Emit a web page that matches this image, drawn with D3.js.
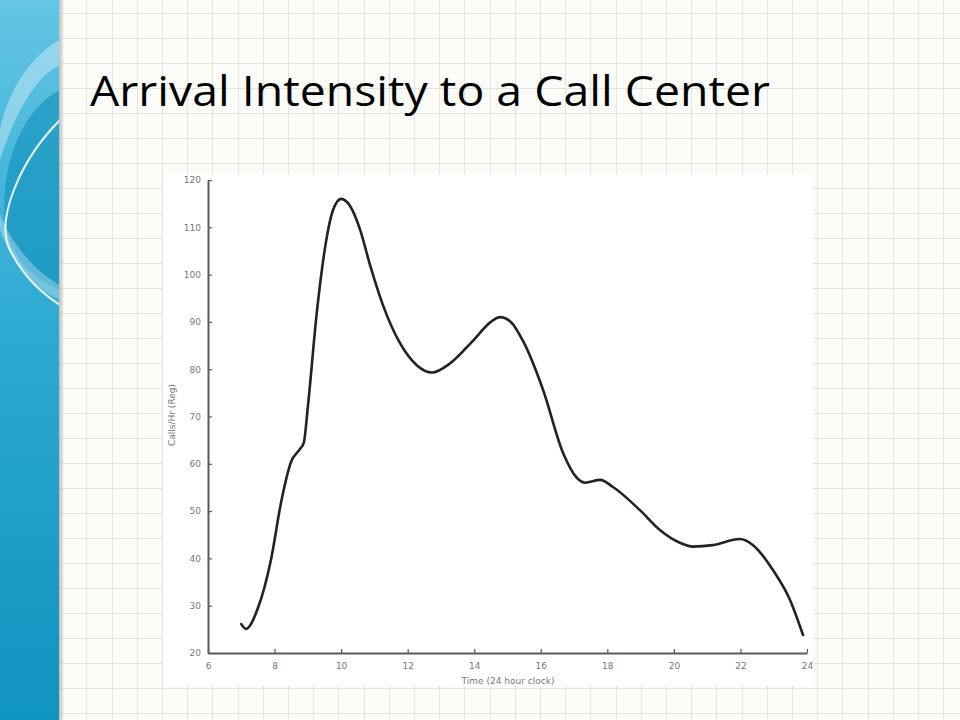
<!DOCTYPE html>
<html><head><meta charset="utf-8">
<script src="https://cdn.jsdelivr.net/npm/d3@7"></script>
<style>html,body{margin:0;padding:0;background:#fff;}svg{display:block;}</style>
</head><body>
<script>
// ---- data ----
const hours = [7.0, 7.14, 7.5, 7.9, 8.2, 8.5, 8.75, 8.88, 9.0, 9.27, 9.52, 9.76, 10.0, 10.27, 10.57, 10.87, 11.26, 11.77, 12.28, 12.73, 13.27, 13.96, 14.5, 14.77, 15.1, 15.5, 16.07, 16.67, 17.09, 17.33, 17.78, 18.17, 18.98, 19.58, 20.18, 20.57, 21.17, 21.98, 22.38, 22.98, 23.49, 23.88];
const calls = [26.1, 25.1, 29.5, 40.0, 52.0, 60.5, 63.0, 64.5, 72.0, 92.0, 105.8, 113.7, 116.0, 114.5, 109.5, 102.0, 93.5, 85.5, 80.8, 79.3, 81.2, 86.0, 90.0, 91.0, 90.0, 85.5, 75.6, 62.3, 57.0, 56.0, 56.6, 55.1, 50.2, 46.0, 43.3, 42.5, 42.8, 44.1, 42.8, 37.5, 31.2, 23.8];
const xTicks = [6, 8, 10, 12, 14, 16, 18, 20, 22, 24];
const yTicks = [20, 30, 40, 50, 60, 70, 80, 90, 100, 110, 120];
const titleText = "Arrival Intensity to a Call Center";
const xLabel = "Time (24 hour clock)";
const yLabel = "Calls/Hr (Reg)";

const W = 960, H = 720;
const svg = d3.select("body").append("svg").attr("width", W).attr("height", H);
const defs = svg.append("defs");

// slide background
svg.append("rect").attr("width", W).attr("height", H).attr("fill", "#fbfbf7");
const grid = svg.append("g").attr("stroke", "#e4e4de").attr("stroke-width", 1);
for (let x = 86.4 - 25.2; x < W; x += 25.2) grid.append("line").attr("x1", Math.round(x) + 0.5).attr("x2", Math.round(x) + 0.5).attr("y1", 0).attr("y2", H);
for (let y = 13; y < H; y += 25) grid.append("line").attr("y1", y + 0.5).attr("y2", y + 0.5).attr("x1", 0).attr("x2", W);

// left blue panel
const lg = defs.append("linearGradient").attr("id", "blue").attr("x1", 0).attr("y1", 0).attr("x2", 0).attr("y2", 1);
lg.append("stop").attr("offset", "0%").attr("stop-color", "#64c5e4");
lg.append("stop").attr("offset", "45%").attr("stop-color", "#2eaad3");
lg.append("stop").attr("offset", "100%").attr("stop-color", "#0f93bf");
const sh = defs.append("linearGradient").attr("id", "shadow").attr("x1", 0).attr("x2", 1);
sh.append("stop").attr("offset", "0%").attr("stop-color", "#999").attr("stop-opacity", 0.8);
sh.append("stop").attr("offset", "100%").attr("stop-color", "#ccc").attr("stop-opacity", 0);
svg.append("rect").attr("x", 58).attr("width", 7).attr("height", H).attr("fill", "url(#shadow)");
const panel = svg.append("g");
panel.append("rect").attr("width", 59).attr("height", H).attr("fill", "url(#blue)");
const cp = defs.append("clipPath").attr("id", "pclip");
cp.append("rect").attr("width", 59).attr("height", H);
const sw = panel.append("g").attr("clip-path", "url(#pclip)");
sw.append("path").attr("d", "M60,90 C20,110 0,170 5,220 C10,260 35,280 60,290 Z").attr("fill", "#0b8db8").attr("opacity", 0.55);
sw.append("path").attr("d", "M0,130 C10,80 40,50 60,40 L60,65 C40,75 20,100 0,160 Z").attr("fill", "#ffffff").attr("opacity", 0.35);
sw.append("path").attr("d", "M60,120 C20,160 -5,220 10,250 C25,280 45,295 60,305").attr("fill", "none").attr("stroke", "#ffffff").attr("stroke-width", 2).attr("opacity", 0.9);
sw.append("path").attr("d", "M0,230 C10,260 35,290 60,300 L60,285 C40,275 15,250 0,215 Z").attr("fill", "#ffffff").attr("opacity", 0.3);

// title
svg.append("text").attr("x", 90).attr("y", 106).text(titleText)
  .attr("font-family", "'Open Sans', Lato, sans-serif").attr("font-size", 42).attr("fill", "#000")
  .attr("textLength", 680).attr("lengthAdjust", "spacingAndGlyphs");

// chart image area
svg.append("rect").attr("x", 163).attr("y", 174).attr("width", 650).attr("height", 512).attr("fill", "#ffffff");

const x = d3.scaleLinear().domain([6, 24]).range([208, 807]);
const y = d3.scaleLinear().domain([20, 120]).range([653, 180]);

const axisColor = "#5a5a5a";
const gx = svg.append("g").attr("transform", `translate(0,${y(20)})`)
  .call(d3.axisBottom(x).tickValues(xTicks).tickSizeInner(-4).tickSizeOuter(0).tickPadding(8));
const gy = svg.append("g").attr("transform", `translate(${x(6)},0)`)
  .call(d3.axisLeft(y).tickValues(yTicks).tickSizeInner(-4).tickSizeOuter(0).tickPadding(7));
[gx, gy].forEach(g => {
  g.select(".domain").attr("stroke", axisColor).attr("stroke-width", 2);
  g.selectAll(".tick line").attr("stroke", axisColor).attr("stroke-width", 1.2);
  g.selectAll(".tick text").attr("fill", "#777").attr("font-family", "'DejaVu Sans', sans-serif").attr("font-size", 9);
});
gx.selectAll(".tick text").attr("dy", "0.9em");

svg.append("text").attr("x", 508).attr("y", 684).attr("text-anchor", "middle").text(xLabel)
  .attr("fill", "#777").attr("font-family", "'DejaVu Sans', sans-serif").attr("font-size", 9);
svg.append("text").attr("transform", `translate(175,415) rotate(-90)`).attr("text-anchor", "middle").text(yLabel)
  .attr("fill", "#777").attr("font-family", "'DejaVu Sans', sans-serif").attr("font-size", 9);

const pts = hours.map((h, i) => [h, calls[i]]);
const line = d3.line().x(d => x(d[0])).y(d => y(d[1])).curve(d3.curveMonotoneX);
svg.append("path").attr("d", line(pts)).attr("fill", "none").attr("stroke", "#222").attr("stroke-width", 2.6)
  .attr("stroke-linejoin", "round").attr("stroke-linecap", "round");
</script>
</body></html>
